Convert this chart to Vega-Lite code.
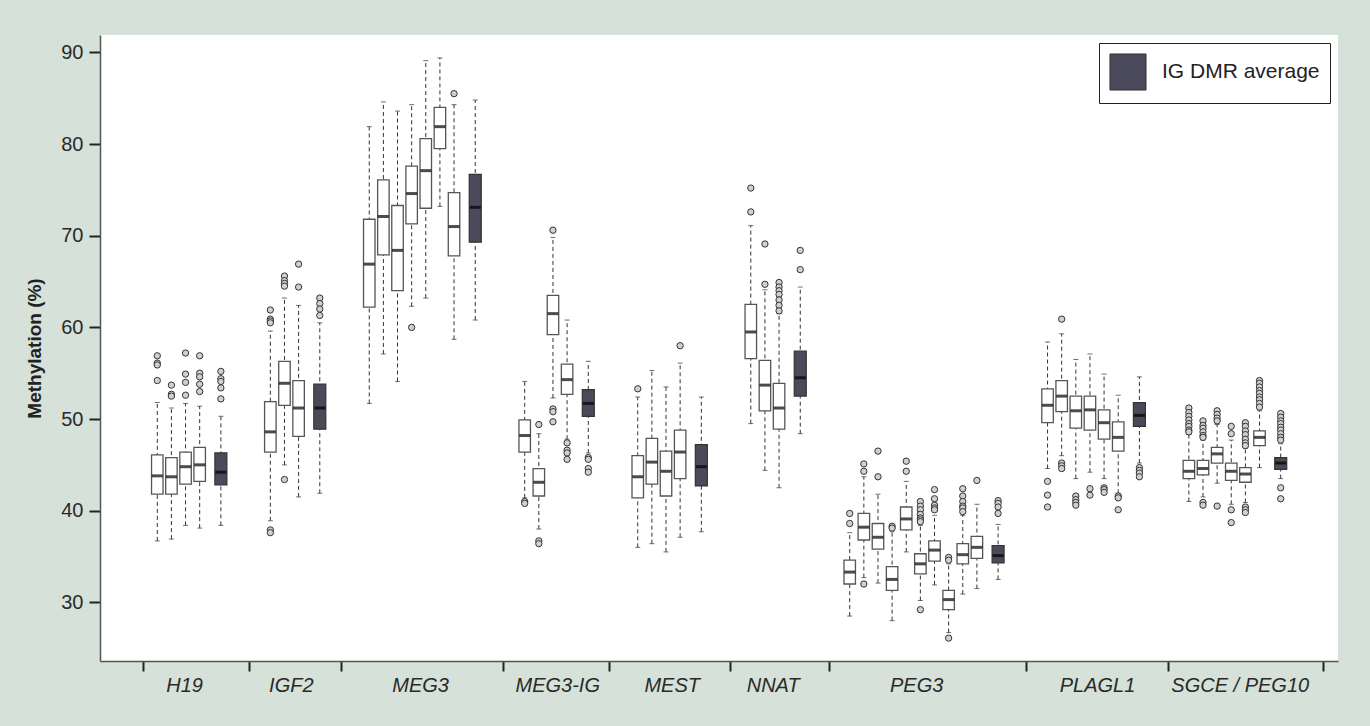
{
  "$schema": "https://vega.github.io/schema/vega-lite/v6.json",
  "width": 1238,
  "height": 626,
  "autosize": {"type": "none"},
  "padding": {"left": 100, "top": 35, "right": 32, "bottom": 65},
  "background": "#d5e1d9",
  "config": {
    "view": {"fill": "white", "stroke": null},
    "font": "Liberation Sans",
    "axisX": {"grid": false, "labelFontSize": 20, "labelFontStyle": "italic", "labelColor": "#2a2a2a", "tickSize": 10, "tickWidth": 2, "tickColor": "#222", "domainColor": "#555", "domainWidth": 1.5, "labelPadding": 4, "labelOverlap": false, "labelFlush": false, "labelBound": false},
    "axisY": {"grid": false, "labelFontSize": 20, "labelColor": "#2a2a2a", "tickSize": 11, "tickWidth": 2, "tickColor": "#222", "domainColor": "#555", "domainWidth": 1.5, "labelPadding": 6, "titleFontSize": 19, "titleFontWeight": "bold", "titleColor": "#222", "titlePadding": 16}
  },
  "datasets": {
    "boxes": [
      {"gene": "H19", "pos": 1, "kind": "single", "lo": 36.7, "q1": 41.8, "med": 43.8, "q3": 46.1, "hi": 51.8},
      {"gene": "H19", "pos": 2, "kind": "single", "lo": 36.9, "q1": 41.8, "med": 43.7, "q3": 45.8, "hi": 51.2},
      {"gene": "H19", "pos": 3, "kind": "single", "lo": 38.4, "q1": 42.9, "med": 44.8, "q3": 46.4, "hi": 51.7},
      {"gene": "H19", "pos": 4, "kind": "single", "lo": 38.1, "q1": 43.2, "med": 45.0, "q3": 46.9, "hi": 51.4},
      {"gene": "H19", "pos": 5.5, "kind": "avg", "lo": 38.4, "q1": 42.8, "med": 44.2, "q3": 46.3, "hi": 50.3},
      {"gene": "IGF2", "pos": 9, "kind": "single", "lo": 38.9, "q1": 46.4, "med": 48.6, "q3": 51.9, "hi": 59.6},
      {"gene": "IGF2", "pos": 10, "kind": "single", "lo": 45.0, "q1": 51.5, "med": 53.9, "q3": 56.3, "hi": 63.2},
      {"gene": "IGF2", "pos": 11, "kind": "single", "lo": 41.5, "q1": 48.1, "med": 51.2, "q3": 54.2, "hi": 62.4},
      {"gene": "IGF2", "pos": 12.5, "kind": "avg", "lo": 41.9, "q1": 48.9, "med": 51.2, "q3": 53.8, "hi": 60.5},
      {"gene": "MEG3", "pos": 16, "kind": "single", "lo": 51.7, "q1": 62.2, "med": 66.9, "q3": 71.8, "hi": 81.9},
      {"gene": "MEG3", "pos": 17, "kind": "single", "lo": 57.1, "q1": 67.9, "med": 72.1, "q3": 76.1, "hi": 84.6},
      {"gene": "MEG3", "pos": 18, "kind": "single", "lo": 54.1, "q1": 64.0, "med": 68.4, "q3": 73.3, "hi": 83.6},
      {"gene": "MEG3", "pos": 19, "kind": "single", "lo": 62.3, "q1": 71.3, "med": 74.6, "q3": 77.6, "hi": 84.3},
      {"gene": "MEG3", "pos": 20, "kind": "single", "lo": 63.2, "q1": 73.0, "med": 77.1, "q3": 80.6, "hi": 89.1},
      {"gene": "MEG3", "pos": 21, "kind": "single", "lo": 73.2, "q1": 79.5, "med": 81.9, "q3": 84.0, "hi": 89.4},
      {"gene": "MEG3", "pos": 22, "kind": "single", "lo": 58.7, "q1": 67.8, "med": 71.0, "q3": 74.7, "hi": 84.3},
      {"gene": "MEG3", "pos": 23.5, "kind": "avg", "lo": 60.8, "q1": 69.3, "med": 73.1, "q3": 76.7, "hi": 84.8},
      {"gene": "MEG3-IG", "pos": 27, "kind": "single", "lo": 41.4, "q1": 46.4, "med": 48.2, "q3": 49.9, "hi": 54.1},
      {"gene": "MEG3-IG", "pos": 28, "kind": "single", "lo": 38.0, "q1": 41.6, "med": 43.1, "q3": 44.6, "hi": 48.4},
      {"gene": "MEG3-IG", "pos": 29, "kind": "single", "lo": 52.3, "q1": 59.2, "med": 61.5, "q3": 63.5, "hi": 69.8},
      {"gene": "MEG3-IG", "pos": 30, "kind": "single", "lo": 47.8, "q1": 52.7, "med": 54.3, "q3": 56.0, "hi": 60.8},
      {"gene": "MEG3-IG", "pos": 31.5, "kind": "avg", "lo": 46.3, "q1": 50.3, "med": 51.7, "q3": 53.2, "hi": 56.3},
      {"gene": "MEST", "pos": 35, "kind": "single", "lo": 36.0, "q1": 41.4, "med": 43.7, "q3": 46.0, "hi": 52.4},
      {"gene": "MEST", "pos": 36, "kind": "single", "lo": 36.4, "q1": 42.9, "med": 45.3, "q3": 47.9, "hi": 55.3},
      {"gene": "MEST", "pos": 37, "kind": "single", "lo": 35.5, "q1": 41.6, "med": 44.3, "q3": 46.5, "hi": 53.5},
      {"gene": "MEST", "pos": 38, "kind": "single", "lo": 37.1, "q1": 43.5, "med": 46.4, "q3": 48.8, "hi": 56.1},
      {"gene": "MEST", "pos": 39.5, "kind": "avg", "lo": 37.7, "q1": 42.7, "med": 44.8, "q3": 47.2, "hi": 52.4},
      {"gene": "NNAT", "pos": 43, "kind": "single", "lo": 49.5, "q1": 56.6, "med": 59.5, "q3": 62.5, "hi": 71.1},
      {"gene": "NNAT", "pos": 44, "kind": "single", "lo": 44.4, "q1": 50.9, "med": 53.7, "q3": 56.4, "hi": 64.1},
      {"gene": "NNAT", "pos": 45, "kind": "single", "lo": 42.5, "q1": 48.9, "med": 51.2, "q3": 53.9, "hi": 61.5},
      {"gene": "NNAT", "pos": 46.5, "kind": "avg", "lo": 48.4, "q1": 52.5, "med": 54.5, "q3": 57.4, "hi": 64.4},
      {"gene": "PEG3", "pos": 50, "kind": "single", "lo": 28.5, "q1": 32.0, "med": 33.3, "q3": 34.6, "hi": 37.6},
      {"gene": "PEG3", "pos": 51, "kind": "single", "lo": 32.7, "q1": 36.8, "med": 38.2, "q3": 39.7, "hi": 43.7},
      {"gene": "PEG3", "pos": 52, "kind": "single", "lo": 32.1, "q1": 35.8, "med": 37.1, "q3": 38.6, "hi": 41.8},
      {"gene": "PEG3", "pos": 53, "kind": "single", "lo": 28.0, "q1": 31.3, "med": 32.5, "q3": 33.9, "hi": 37.7},
      {"gene": "PEG3", "pos": 54, "kind": "single", "lo": 35.5, "q1": 37.9, "med": 39.1, "q3": 40.4, "hi": 43.2},
      {"gene": "PEG3", "pos": 55, "kind": "single", "lo": 30.2, "q1": 33.1, "med": 34.2, "q3": 35.3, "hi": 38.4},
      {"gene": "PEG3", "pos": 56, "kind": "single", "lo": 31.9, "q1": 34.5, "med": 35.7, "q3": 36.7, "hi": 39.5},
      {"gene": "PEG3", "pos": 57, "kind": "single", "lo": 26.7, "q1": 29.2, "med": 30.3, "q3": 31.3, "hi": 34.2},
      {"gene": "PEG3", "pos": 58, "kind": "single", "lo": 30.9, "q1": 34.2, "med": 35.2, "q3": 36.4, "hi": 39.5},
      {"gene": "PEG3", "pos": 59, "kind": "single", "lo": 31.5, "q1": 34.8, "med": 36.0, "q3": 37.2, "hi": 40.7},
      {"gene": "PEG3", "pos": 60.5, "kind": "avg", "lo": 32.5, "q1": 34.3, "med": 35.1, "q3": 36.2, "hi": 38.5},
      {"gene": "PLAGL1", "pos": 64, "kind": "single", "lo": 44.6, "q1": 49.6, "med": 51.5, "q3": 53.3, "hi": 58.4},
      {"gene": "PLAGL1", "pos": 65, "kind": "single", "lo": 46.0, "q1": 50.8, "med": 52.5, "q3": 54.2, "hi": 59.3},
      {"gene": "PLAGL1", "pos": 66, "kind": "single", "lo": 43.5, "q1": 49.0, "med": 50.9, "q3": 52.5, "hi": 56.5},
      {"gene": "PLAGL1", "pos": 67, "kind": "single", "lo": 44.2, "q1": 48.8, "med": 51.0, "q3": 52.5, "hi": 57.1},
      {"gene": "PLAGL1", "pos": 68, "kind": "single", "lo": 43.5, "q1": 47.8, "med": 49.6, "q3": 51.0, "hi": 54.9},
      {"gene": "PLAGL1", "pos": 69, "kind": "single", "lo": 41.9, "q1": 46.5, "med": 48.0, "q3": 49.7, "hi": 52.6},
      {"gene": "PLAGL1", "pos": 70.5, "kind": "avg", "lo": 45.2, "q1": 49.2, "med": 50.4, "q3": 51.8, "hi": 54.6},
      {"gene": "SGCE/PEG10", "pos": 74, "kind": "single", "lo": 41.0, "q1": 43.5, "med": 44.3, "q3": 45.5, "hi": 48.3},
      {"gene": "SGCE/PEG10", "pos": 75, "kind": "single", "lo": 41.5, "q1": 43.9, "med": 44.6, "q3": 45.5, "hi": 47.7},
      {"gene": "SGCE/PEG10", "pos": 76, "kind": "single", "lo": 43.0, "q1": 45.2, "med": 46.2, "q3": 46.9, "hi": 49.4},
      {"gene": "SGCE/PEG10", "pos": 77, "kind": "single", "lo": 40.7, "q1": 43.3, "med": 44.3, "q3": 45.2, "hi": 47.7},
      {"gene": "SGCE/PEG10", "pos": 78, "kind": "single", "lo": 40.9, "q1": 43.1, "med": 44.0, "q3": 44.7, "hi": 46.8},
      {"gene": "SGCE/PEG10", "pos": 79, "kind": "single", "lo": 44.7, "q1": 47.1, "med": 48.0, "q3": 48.7, "hi": 50.9},
      {"gene": "SGCE/PEG10", "pos": 80.5, "kind": "avg", "lo": 43.5, "q1": 44.5, "med": 45.2, "q3": 45.8, "hi": 47.3}
    ],
    "outliers": [
      {"pos": 1, "v": 56.9}, {"pos": 1, "v": 56.1}, {"pos": 1, "v": 55.9}, {"pos": 1, "v": 54.2},
      {"pos": 2, "v": 53.7}, {"pos": 2, "v": 52.7}, {"pos": 2, "v": 52.5},
      {"pos": 3, "v": 57.2}, {"pos": 3, "v": 54.9}, {"pos": 3, "v": 54.0}, {"pos": 3, "v": 52.6},
      {"pos": 4, "v": 56.9}, {"pos": 4, "v": 55.0}, {"pos": 4, "v": 54.6}, {"pos": 4, "v": 53.8}, {"pos": 4, "v": 53.0},
      {"pos": 5.5, "v": 55.2}, {"pos": 5.5, "v": 54.4}, {"pos": 5.5, "v": 54.1}, {"pos": 5.5, "v": 53.4}, {"pos": 5.5, "v": 52.2},
      {"pos": 9, "v": 61.9}, {"pos": 9, "v": 60.9}, {"pos": 9, "v": 60.7}, {"pos": 9, "v": 60.5}, {"pos": 9, "v": 37.9}, {"pos": 9, "v": 37.6},
      {"pos": 10, "v": 65.6}, {"pos": 10, "v": 65.1}, {"pos": 10, "v": 64.8}, {"pos": 10, "v": 64.5}, {"pos": 10, "v": 43.4},
      {"pos": 11, "v": 66.9}, {"pos": 11, "v": 64.4},
      {"pos": 12.5, "v": 63.2}, {"pos": 12.5, "v": 62.6}, {"pos": 12.5, "v": 62.0}, {"pos": 12.5, "v": 61.3},
      {"pos": 19, "v": 60.0},
      {"pos": 22, "v": 85.5},
      {"pos": 27, "v": 41.0}, {"pos": 27, "v": 40.8},
      {"pos": 28, "v": 49.4}, {"pos": 28, "v": 36.7}, {"pos": 28, "v": 36.4},
      {"pos": 29, "v": 70.6}, {"pos": 29, "v": 51.1}, {"pos": 29, "v": 50.8}, {"pos": 29, "v": 49.7},
      {"pos": 30, "v": 47.4}, {"pos": 30, "v": 46.6}, {"pos": 30, "v": 46.3}, {"pos": 30, "v": 45.6},
      {"pos": 31.5, "v": 45.8}, {"pos": 31.5, "v": 45.6}, {"pos": 31.5, "v": 44.6}, {"pos": 31.5, "v": 44.2},
      {"pos": 35, "v": 53.3},
      {"pos": 38, "v": 58.0},
      {"pos": 43, "v": 75.2}, {"pos": 43, "v": 72.6},
      {"pos": 44, "v": 69.1}, {"pos": 44, "v": 64.7},
      {"pos": 45, "v": 64.9}, {"pos": 45, "v": 64.4}, {"pos": 45, "v": 64.0}, {"pos": 45, "v": 63.6}, {"pos": 45, "v": 63.0}, {"pos": 45, "v": 62.4}, {"pos": 45, "v": 61.8},
      {"pos": 46.5, "v": 68.4}, {"pos": 46.5, "v": 66.3},
      {"pos": 50, "v": 39.7}, {"pos": 50, "v": 38.6},
      {"pos": 51, "v": 45.1}, {"pos": 51, "v": 44.3}, {"pos": 51, "v": 32.0},
      {"pos": 52, "v": 46.5}, {"pos": 52, "v": 43.7},
      {"pos": 53, "v": 38.3}, {"pos": 53, "v": 38.1},
      {"pos": 54, "v": 45.4}, {"pos": 54, "v": 44.3},
      {"pos": 55, "v": 41.0}, {"pos": 55, "v": 40.5}, {"pos": 55, "v": 40.1}, {"pos": 55, "v": 39.6}, {"pos": 55, "v": 39.2}, {"pos": 55, "v": 39.0}, {"pos": 55, "v": 38.8}, {"pos": 55, "v": 29.2},
      {"pos": 56, "v": 42.3}, {"pos": 56, "v": 41.3}, {"pos": 56, "v": 40.6}, {"pos": 56, "v": 40.3}, {"pos": 56, "v": 40.1},
      {"pos": 57, "v": 34.9}, {"pos": 57, "v": 34.6}, {"pos": 57, "v": 26.1},
      {"pos": 58, "v": 42.4}, {"pos": 58, "v": 41.6}, {"pos": 58, "v": 41.0}, {"pos": 58, "v": 40.5}, {"pos": 58, "v": 40.3}, {"pos": 58, "v": 39.9},
      {"pos": 59, "v": 43.3},
      {"pos": 60.5, "v": 41.1}, {"pos": 60.5, "v": 40.8}, {"pos": 60.5, "v": 40.4}, {"pos": 60.5, "v": 39.7},
      {"pos": 64, "v": 43.2}, {"pos": 64, "v": 41.7}, {"pos": 64, "v": 40.4},
      {"pos": 65, "v": 60.9}, {"pos": 65, "v": 45.2}, {"pos": 65, "v": 44.9}, {"pos": 65, "v": 44.6},
      {"pos": 66, "v": 41.6}, {"pos": 66, "v": 41.2}, {"pos": 66, "v": 40.9}, {"pos": 66, "v": 40.6},
      {"pos": 67, "v": 42.4}, {"pos": 67, "v": 41.7},
      {"pos": 68, "v": 42.5}, {"pos": 68, "v": 42.3}, {"pos": 68, "v": 42.0},
      {"pos": 69, "v": 41.6}, {"pos": 69, "v": 41.4}, {"pos": 69, "v": 40.1},
      {"pos": 70.5, "v": 44.7}, {"pos": 70.5, "v": 44.4}, {"pos": 70.5, "v": 44.1}, {"pos": 70.5, "v": 43.7},
      {"pos": 74, "v": 51.2}, {"pos": 74, "v": 50.7}, {"pos": 74, "v": 50.3}, {"pos": 74, "v": 49.9}, {"pos": 74, "v": 49.5}, {"pos": 74, "v": 49.2}, {"pos": 74, "v": 48.8}, {"pos": 74, "v": 48.6},
      {"pos": 75, "v": 49.8}, {"pos": 75, "v": 49.3}, {"pos": 75, "v": 49.0}, {"pos": 75, "v": 48.6}, {"pos": 75, "v": 48.2}, {"pos": 75, "v": 48.0}, {"pos": 75, "v": 40.9}, {"pos": 75, "v": 40.6},
      {"pos": 76, "v": 50.9}, {"pos": 76, "v": 50.5}, {"pos": 76, "v": 50.1}, {"pos": 76, "v": 49.8}, {"pos": 76, "v": 40.5},
      {"pos": 77, "v": 49.2}, {"pos": 77, "v": 48.4}, {"pos": 77, "v": 40.1}, {"pos": 77, "v": 38.7},
      {"pos": 78, "v": 49.6}, {"pos": 78, "v": 49.2}, {"pos": 78, "v": 48.7}, {"pos": 78, "v": 48.3}, {"pos": 78, "v": 47.8}, {"pos": 78, "v": 47.4}, {"pos": 78, "v": 47.1}, {"pos": 78, "v": 40.4}, {"pos": 78, "v": 40.1}, {"pos": 78, "v": 39.8},
      {"pos": 79, "v": 54.2}, {"pos": 79, "v": 53.9}, {"pos": 79, "v": 53.5}, {"pos": 79, "v": 53.1}, {"pos": 79, "v": 52.8}, {"pos": 79, "v": 52.4}, {"pos": 79, "v": 52.1}, {"pos": 79, "v": 51.7}, {"pos": 79, "v": 51.3},
      {"pos": 80.5, "v": 50.6}, {"pos": 80.5, "v": 50.2}, {"pos": 80.5, "v": 49.8}, {"pos": 80.5, "v": 49.5}, {"pos": 80.5, "v": 49.1}, {"pos": 80.5, "v": 48.8}, {"pos": 80.5, "v": 48.4}, {"pos": 80.5, "v": 48.0}, {"pos": 80.5, "v": 47.7}, {"pos": 80.5, "v": 42.5}, {"pos": 80.5, "v": 41.3}
    ]
  },
  "encoding": {
    "x": {
      "field": "pos",
      "type": "quantitative",
      "scale": {"domain": [-2.7, 84.2], "nice": false, "zero": false},
      "axis": {
        "title": null,
        "values": [0, 7.5, 14, 25.5, 33, 41.5, 48.5, 62.5, 72.5, 83.5, 2.9, 10.45, 19.6, 29.3, 37.4, 44.55, 54.7, 67.5, 77.6],
        "labelExpr": "datum.value == 2.9 ? 'H19' : datum.value == 10.45 ? 'IGF2' : datum.value == 19.6 ? 'MEG3' : datum.value == 29.3 ? 'MEG3-IG' : datum.value == 37.4 ? 'MEST' : datum.value == 44.55 ? 'NNAT' : datum.value == 54.7 ? 'PEG3' : datum.value == 67.5 ? 'PLAGL1' : datum.value == 77.6 ? 'SGCE / PEG10' : ''",
        "tickOpacity": {"condition": {"test": "indexof([0, 7.5, 14, 25.5, 33, 41.5, 48.5, 62.5, 72.5, 83.5], datum.value) >= 0", "value": 1}, "value": 0}
      }
    }
  },
  "layer": [
    {
      "data": {"name": "boxes"},
      "mark": {"type": "rule", "color": "#333", "strokeWidth": 1, "strokeDash": [4, 3]},
      "encoding": {
        "y": {"field": "lo", "type": "quantitative", "scale": {"domain": [23.6, 91.9], "nice": false, "zero": false}, "title": "Methylation (%)", "axis": {"values": [30, 40, 50, 60, 70, 80, 90]}},
        "y2": {"field": "hi"}
      }
    },
    {
      "data": {"name": "boxes"},
      "mark": {"type": "tick", "orient": "horizontal", "size": 5, "thickness": 1, "color": "#333"},
      "encoding": {"y": {"field": "lo", "type": "quantitative", "title": "Methylation (%)"}}
    },
    {
      "data": {"name": "boxes"},
      "mark": {"type": "tick", "orient": "horizontal", "size": 5, "thickness": 1, "color": "#333"},
      "encoding": {"y": {"field": "hi", "type": "quantitative", "title": "Methylation (%)"}}
    },
    {
      "data": {"name": "boxes"},
      "transform": [{"filter": "datum.kind == 'single'"}],
      "mark": {"type": "bar", "orient": "vertical", "width": 11.5, "fill": "white", "stroke": "#555", "strokeWidth": 1.3},
      "encoding": {
        "y": {"field": "q1", "type": "quantitative", "title": "Methylation (%)"},
        "y2": {"field": "q3"}
      }
    },
    {
      "data": {"name": "boxes"},
      "transform": [{"filter": "datum.kind == 'avg'"}],
      "mark": {"type": "bar", "orient": "vertical", "width": 12, "stroke": "#333", "strokeWidth": 1.2},
      "encoding": {
        "y": {"field": "q1", "type": "quantitative", "title": "Methylation (%)"},
        "y2": {"field": "q3"},
        "fill": {
          "datum": "IG DMR average",
          "type": "nominal",
          "scale": {"range": ["#4b4a5b"]},
          "legend": {"title": null, "orient": "top-right", "offset": 8, "symbolType": "square", "symbolSize": 1300, "symbolStrokeColor": "#333", "symbolStrokeWidth": 1, "labelFontSize": 21, "labelColor": "#222", "labelOffset": 15, "padding": 10, "strokeColor": "#222", "fillColor": "white"}
        }
      }
    },
    {
      "data": {"name": "boxes"},
      "mark": {"type": "tick", "orient": "horizontal", "size": 11, "thickness": 3, "color": "black"},
      "encoding": {"y": {"field": "med", "type": "quantitative", "title": "Methylation (%)"}}
    },
    {
      "data": {"name": "outliers"},
      "mark": {"type": "point", "shape": "circle", "filled": true, "fill": "#d0d0d0", "stroke": "#333", "strokeWidth": 1, "size": 40, "opacity": 1},
      "encoding": {"y": {"field": "v", "type": "quantitative", "title": "Methylation (%)"}}
    }
  ]
}
